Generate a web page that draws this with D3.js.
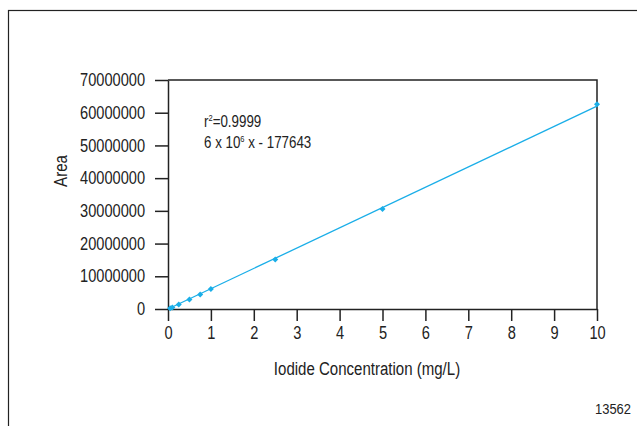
<!DOCTYPE html>
<html>
<head>
<meta charset="utf-8">
<script src="https://cdn.jsdelivr.net/npm/d3@7"></script>
<style>
  body { margin: 0; background: #fff; }
  svg text { font-family: "Liberation Sans", Arial, sans-serif; fill: #222; }
</style>
</head>
<body>
<svg id="chart_svg" width="637" height="426"></svg>
<script>
// calibration points
const concentrations = [0.05, 0.1, 0.25, 0.5, 0.75, 1, 2.5, 5, 10];
const areas = [200000, 450000, 1400000, 2900000, 4400000, 6100000, 15100000, 30600000, 62600000];
const xTicks = [0, 1, 2, 3, 4, 5, 6, 7, 8, 9, 10];
const yTicks = [0, 10000000, 20000000, 30000000, 40000000, 50000000, 60000000, 70000000];
const fitSlope = 6220000;
const fitIntercept = -177643;
const annotation = ["r", "2", "=0.9999"];
const equation = ["6 x 10", "6", " x - 177643"];

const svg = d3.select("#chart_svg");
const margin = { top: 80, bottom: 117, left: 168, right: 40 };
const width = 637, height = 426;
const squeeze = 0.835; // the original uses a condensed face

// outer frame (runs off the right and bottom edges)
svg.append("rect")
  .attr("x", 8.5).attr("y", 10.5)
  .attr("width", 700).attr("height", 500)
  .attr("fill", "none").attr("stroke", "#222").attr("stroke-width", 1.2);

const xScale = d3.scaleLinear()
  .domain([0, 10])
  .range([margin.left, width - margin.right]);

const yScale = d3.scaleLinear()
  .domain([0, 70000000])
  .range([height - margin.bottom, margin.top]);

const x0 = xScale(0), x1 = xScale(10), y0 = yScale(0), y1 = yScale(70000000);

// plot box top and right
svg.append("path")
  .attr("d", `M${x0},${y1}H${x1}V${y0}`)
  .attr("fill", "none").attr("stroke", "#222").attr("stroke-width", 1.5);

// axes
const xAxis = d3.axisBottom(xScale).tickValues(xTicks).tickSize(12).tickSizeOuter(0).tickPadding(6)
  .tickFormat(d3.format("d"));
const yAxis = d3.axisLeft(yScale).tickValues(yTicks).tickSize(13).tickSizeOuter(0)
  .tickFormat(d3.format("d"));

const gx = svg.append("g").attr("transform", `translate(0, ${y0})`).call(xAxis);
const gy = svg.append("g").attr("transform", `translate(${x0}, 0)`).call(yAxis);

[gx, gy].forEach(g => {
  g.selectAll(".domain").attr("stroke", "#222").attr("stroke-width", 1.5);
  g.selectAll(".tick line").attr("stroke", "#222").attr("stroke-width", 1.5);
  g.selectAll(".tick text").attr("font-size", 17.5).attr("fill", "#222")
    .style("font-family", "'Liberation Sans', Arial, sans-serif")
    .attr("transform", `scale(${squeeze},1)`);
});
gy.selectAll(".tick text").attr("x", -23 / squeeze);

// regression line
svg.append("line")
  .attr("x1", xScale(0)).attr("y1", yScale(Math.max(0, fitIntercept)))
  .attr("x2", xScale(10)).attr("y2", yScale(fitSlope * 10 + fitIntercept))
  .attr("stroke", "#1aaee8").attr("stroke-width", 1.3);

// data points (small diamonds)
svg.append("g").selectAll("path")
  .data(concentrations.map((c, i) => ({ c, a: areas[i] })))
  .enter()
  .append("path")
  .attr("d", d3.symbol(d3.symbolSquare, 18))
  .attr("transform", d => `translate(${xScale(d.c)}, ${yScale(d.a)}) rotate(45)`)
  .attr("fill", "#1aaee8");

// helper for squeezed text
function label(x, y, size, anchor, rotate) {
  return svg.append("g")
    .attr("transform", `translate(${x},${y})${rotate ? " rotate(-90)" : ""} scale(${squeeze},1)`)
    .append("text")
    .attr("text-anchor", anchor)
    .attr("font-size", size);
}

// annotation text
const t1 = label(204, 127, 16, "start");
t1.append("tspan").text(annotation[0]);
t1.append("tspan").attr("font-size", 9).attr("dy", -6).text(annotation[1]);
t1.append("tspan").attr("dy", 6).text(annotation[2]);

const t2 = label(204, 148, 16, "start");
t2.append("tspan").text(equation[0]);
t2.append("tspan").attr("font-size", 9).attr("dy", -6).text(equation[1]);
t2.append("tspan").attr("dy", 6).text(equation[2]);

// axis titles
label(367, 375, 18, "middle").text("Iodide Concentration (mg/L)");
label(67, 171, 18, "middle", true).text("Area");

// figure number
label(631, 414, 15.5, "end").text("13562");
</script>
</body>
</html>
